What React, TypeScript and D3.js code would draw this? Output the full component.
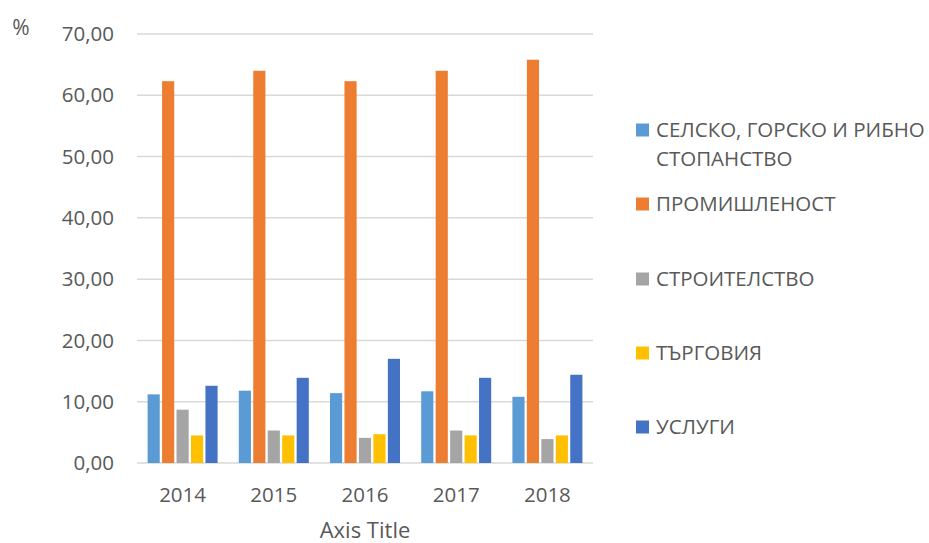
import React from "react";
import * as d3 from "d3";

const years = ["2014", "2015", "2016", "2017", "2018"];
const seriesNames = [
  "СЕЛСКО, ГОРСКО И РИБНО СТОПАНСТВО",
  "ПРОМИШЛЕНОСТ",
  "СТРОИТЕЛСТВО",
  "ТЪРГОВИЯ",
  "УСЛУГИ",
];
const legendLines = [
  ["СЕЛСКО, ГОРСКО И РИБНО", "СТОПАНСТВО"],
  ["ПРОМИШЛЕНОСТ"],
  ["СТРОИТЕЛСТВО"],
  ["ТЪРГОВИЯ"],
  ["УСЛУГИ"],
];
const agriculture = [11.2, 11.8, 11.4, 11.7, 10.8];
const industry = [62.3, 64.0, 62.3, 64.0, 65.8];
const construction = [8.7, 5.3, 4.1, 5.3, 3.9];
const trade = [4.5, 4.5, 4.7, 4.5, 4.5];
const services = [12.6, 13.9, 17.0, 13.9, 14.4];
const seriesValues = [agriculture, industry, construction, trade, services];
const colors = ["#5B9BD5", "#ED7D31", "#A5A5A5", "#FFC000", "#4472C4"];
const yTicks = [0, 10, 20, 30, 40, 50, 60, 70];

const W = 929;
const H = 543;
const plotLeft = 137;
const plotRight = 593;
const plotTop = 34;
const plotBottom = 463;
const font = "'Open Sans', sans-serif";
const textColor = "#595959";

export default function App() {
  const y = d3.scaleLinear().domain([0, 70]).range([plotBottom, plotTop]);
  const x0 = d3.scaleBand().domain(years).range([plotLeft, plotRight]).paddingInner(0).paddingOuter(0);
  const groupW = 70;
  const x1 = d3
    .scaleBand()
    .domain(seriesNames)
    .range([0, groupW])
    .paddingInner(0.16)
    .paddingOuter(0);
  const fmt = (v: number) => v.toFixed(2).replace(".", ",");

  const legendY = [130, 204, 279, 353, 427];

  return (
    <svg
      width={W}
      height={H}
      style={{ position: "absolute", left: 0, top: 0, background: "#fff" }}
      fontFamily={font}
    >
      {yTicks.map((t) => (
        <g key={t}>
          <line x1={plotLeft} x2={plotRight} y1={y(t)} y2={y(t)} stroke="#d9d9d9" strokeWidth={1.5} />
          <text x={114} y={y(t)} dy="0.35em" textAnchor="end" fontSize={20.5} fill={textColor}>
            {fmt(t)}
          </text>
        </g>
      ))}
      <text x={21} y={28} dy="0.35em" textAnchor="middle" fontSize={21} fill={textColor}>
        %
      </text>
      {years.map((yr, i) => {
        const gx = (x0(yr) as number) + (x0.bandwidth() - groupW) / 2;
        return (
          <g key={yr}>
            {seriesNames.map((s, j) => {
              const v = seriesValues[j][i];
              return (
                <rect
                  key={s}
                  x={gx + (x1(s) as number)}
                  y={y(v)}
                  width={x1.bandwidth()}
                  height={y(0) - y(v)}
                  fill={colors[j]}
                />
              );
            })}
            <text
              x={(x0(yr) as number) + x0.bandwidth() / 2}
              y={502}
              textAnchor="middle"
              fontSize={20.5}
              fill={textColor}
            >
              {yr}
            </text>
          </g>
        );
      })}
      <text x={(plotLeft + plotRight) / 2} y={538} textAnchor="middle" fontSize={22} fill={textColor}>
        Axis Title
      </text>
      {seriesNames.map((s, j) => (
        <g key={s}>
          <rect x={636} y={legendY[j] - 6.5} width={13} height={13} fill={colors[j]} />
          {legendLines[j].map((ln, k) => (
            <text
              key={k}
              x={656}
              y={legendY[j] + k * 29}
              dy="0.35em"
              fontSize={20.5}
              fill={textColor}
            >
              {ln}
            </text>
          ))}
        </g>
      ))}
    </svg>
  );
}
